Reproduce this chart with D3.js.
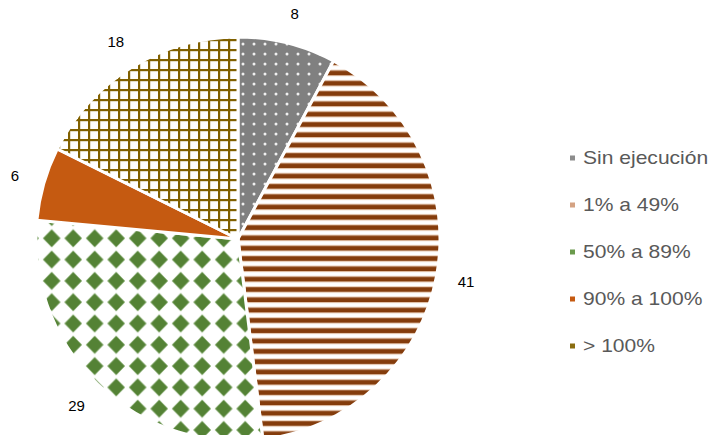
<!DOCTYPE html>
<html>
<head>
<meta charset="utf-8">
<script src="https://cdn.jsdelivr.net/npm/d3@7"></script>
<style>
  body { margin: 0; background: #fff; }
  #visualization { width: 711px; height: 435px; }
</style>
</head>
<body>
<div id="visualization"></div>
<script>
// Data
const categories = ['Sin ejecución', '1% a 49%', '50% a 89%', '90% a 100%', '> 100%'];
const values = [8, 41, 29, 6, 18];
const patternIds = ['p-dots', 'p-stripes', 'p-diamonds', 'p-solid', 'p-grid'];
const legendColors = ['#8c8c8c', '#d4a282', '#6a9a4c', '#c55a11', '#8a6d10'];

const width = 711;
const height = 435;
const cx = 238;
const cy = 239;
const radius = 202;

const svg = d3.select('#visualization')
  .append('svg')
  .attr('width', width)
  .attr('height', height);

const defs = svg.append('defs');

// gray with white dots
const dots = defs.append('pattern')
  .attr('id', 'p-dots')
  .attr('patternUnits', 'userSpaceOnUse')
  .attr('width', 11).attr('height', 10);
dots.append('rect').attr('width', 11).attr('height', 10).attr('fill', '#808080');
dots.append('circle').attr('cx', 5).attr('cy', 5).attr('r', 1.5).attr('fill', '#f0f0f0');

// brown horizontal stripes
const stripes = defs.append('pattern')
  .attr('id', 'p-stripes')
  .attr('patternUnits', 'userSpaceOnUse')
  .attr('y', 3)
  .attr('width', 10).attr('height', 10.31);
stripes.append('rect').attr('width', 10).attr('height', 10.31).attr('fill', '#ffffff');
stripes.append('rect').attr('y', 3).attr('width', 10).attr('height', 6.5).attr('fill', '#e7c8b0');
stripes.append('rect').attr('y', 4).attr('width', 10).attr('height', 4.5).attr('fill', '#843c0c');

// green diamonds
const diamonds = defs.append('pattern')
  .attr('id', 'p-diamonds')
  .attr('patternUnits', 'userSpaceOnUse')
  .attr('x', -3.55).attr('y', 9.95)
  .attr('width', 21.5).attr('height', 21.3);
diamonds.append('rect').attr('width', 21.5).attr('height', 21.3).attr('fill', '#ffffff');
diamonds.append('path')
  .attr('d', 'M10.75,1.8 L19.3,10.65 L10.75,19.5 L2.2,10.65 Z')
  .attr('fill', '#548235')
  .attr('stroke', '#8fb27a')
  .attr('stroke-width', 0.8)
  .attr('stroke-linejoin', 'round');

// solid orange
const solid = defs.append('pattern')
  .attr('id', 'p-solid')
  .attr('patternUnits', 'userSpaceOnUse')
  .attr('width', 10).attr('height', 10);
solid.append('rect').attr('width', 10).attr('height', 10).attr('fill', '#c55a11');

// olive grid
const grid = defs.append('pattern')
  .attr('id', 'p-grid')
  .attr('patternUnits', 'userSpaceOnUse')
  .attr('width', 10).attr('height', 10);
grid.append('rect').attr('width', 10).attr('height', 10).attr('fill', '#ffffff');
grid.append('rect').attr('x', 0).attr('width', 2.2).attr('height', 10).attr('fill', '#806000');
grid.append('rect').attr('y', 0).attr('width', 10).attr('height', 2.2).attr('fill', '#806000');

const pie = d3.pie().sort(null).value(d => d);
const arcs = pie(values);

const arc = d3.arc().innerRadius(0).outerRadius(radius);
const labelArc = d3.arc().innerRadius(232).outerRadius(232);

const chart = svg.append('g')
  .attr('transform', `translate(${cx},${cy})`);

chart.selectAll('path.slice')
  .data(arcs)
  .join('path')
  .attr('class', 'slice')
  .attr('d', arc)
  .attr('fill', (d, i) => `url(#${patternIds[i]})`)
  .attr('stroke', '#fff')
  .attr('stroke-width', 3)
  .attr('stroke-linejoin', 'round');

chart.selectAll('text.label')
  .data(arcs)
  .join('text')
  .attr('class', 'label')
  .attr('transform', d => `translate(${labelArc.centroid(d)})`)
  .attr('text-anchor', 'middle')
  .attr('dy', '0.35em')
  .style('font-family', 'Arial, "Liberation Sans", sans-serif')
  .style('font-size', '15px')
  .style('fill', '#000')
  .text(d => d.data);

// legend
const legend = svg.append('g')
  .attr('transform', 'translate(570, 158)');

categories.forEach((name, i) => {
  const row = legend.append('g')
    .attr('transform', `translate(0, ${i * 47})`);

  row.append('rect')
    .attr('x', 0)
    .attr('y', -2.5)
    .attr('width', 5)
    .attr('height', 5)
    .attr('fill', legendColors[i]);

  row.append('text')
    .attr('transform', 'translate(13,0) scale(1.17,1)')
    .attr('dy', '0.35em')
    .style('font-family', 'Arial, "Liberation Sans", sans-serif')
    .style('font-size', '18px')
    .style('fill', '#595959')
    .text(name);
});
</script>
</body>
</html>
